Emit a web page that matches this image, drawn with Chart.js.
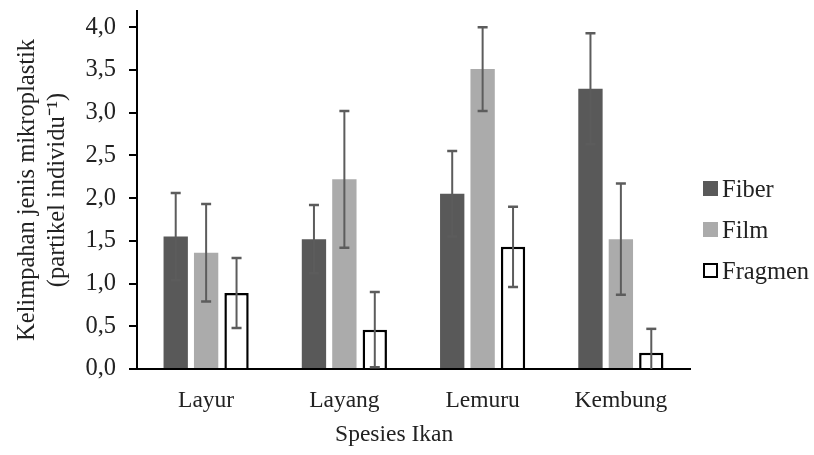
<!DOCTYPE html>
<html>
<head>
<meta charset="utf-8">
<script src="https://cdn.jsdelivr.net/npm/chart.js@4.4.1/dist/chart.umd.min.js"></script>
<style>
  html, body { margin: 0; padding: 0; background: #fff; }
  #wrap { position: relative; width: 814px; height: 455px; }
  #legend {
    position: absolute; left: 703px; top: 168px;
    font-family: "Liberation Serif", "Times New Roman", serif;
    font-size: 24.5px; color: #222;
  }
  #legend .item { display: flex; align-items: center; height: 41px; white-space: nowrap; }
  #legend .box { width: 15px; height: 15px; box-sizing: border-box; margin-right: 4px; }
</style>
</head>
<body>
<div id="wrap">
  <canvas id="chart" width="814" height="455"></canvas>
  <div id="legend"></div>
</div>
<script>
// fish species and mean microplastic counts per type, with error margins
const species = ['Layur', 'Layang', 'Lemuru', 'Kembung'];
const fiber = [1.55, 1.52, 2.05, 3.28];
const fiberErr = [0.51, 0.40, 0.50, 0.65];
const film = [1.36, 2.22, 3.51, 1.52];
const filmErr = [0.57, 0.80, 0.49, 0.65];
const fragmen = [0.89, 0.46, 1.43, 0.19];
const fragmenErr = [0.41, 0.44, 0.47, 0.28];
const yTicks = [0, 0.5, 1, 1.5, 2, 2.5, 3, 3.5, 4];

const serif = '"Liberation Serif", "Times New Roman", serif';
const textColor = '#222';
Chart.defaults.font.family = serif;
Chart.defaults.color = textColor;

// vertical error bars with caps, drawn on top of each bar
const errorBars = {
    id: 'errorBars',
    afterDatasetsDraw(chart) {
        const { ctx } = chart;
        const y = chart.scales.y;
        ctx.save();
        ctx.strokeStyle = '#5c5c5c';
        chart.data.datasets.forEach((ds, i) => {
            const meta = chart.getDatasetMeta(i);
            meta.data.forEach((bar, j) => {
                const v = ds.data[j];
                const e = ds.errors[j];
                const low = Math.max(0, v - e);
                const top = y.getPixelForValue(v + e);
                const bottom = y.getPixelForValue(low);
                ctx.lineWidth = 2;
                ctx.beginPath();
                ctx.moveTo(bar.x, top);
                ctx.lineTo(bar.x, bottom);
                ctx.stroke();
                ctx.lineWidth = 2.5;
                ctx.beginPath();
                ctx.moveTo(bar.x - 5, top);
                ctx.lineTo(bar.x + 5, top);
                if (low > 0) {
                    ctx.moveTo(bar.x - 5, bottom);
                    ctx.lineTo(bar.x + 5, bottom);
                }
                ctx.stroke();
            });
        });
        ctx.restore();
    }
};

// x axis title, sits a bit left of the plot centre
const xTitle = {
    id: 'xTitle',
    afterDraw(chart) {
        const { ctx, chartArea } = chart;
        ctx.save();
        ctx.font = '23.5px ' + serif;
        ctx.fillStyle = textColor;
        ctx.textAlign = 'center';
        ctx.textBaseline = 'middle';
        ctx.fillText('Spesies Ikan', chartArea.left + chartArea.width * 0.465, chart.scales.x.bottom - 20);
        ctx.restore();
    }
};

const chart = new Chart(document.getElementById('chart'), {
    type: 'bar',
    data: {
        labels: species,
        datasets: [
            { label: 'Fiber', data: fiber, errors: fiberErr, backgroundColor: '#595959', borderWidth: 0 },
            { label: 'Film', data: film, errors: filmErr, backgroundColor: '#ababab', borderWidth: 0 },
            { label: 'Fragmen', data: fragmen, errors: fragmenErr, backgroundColor: '#ffffff', borderColor: '#000000', borderWidth: 2.5 }
        ]
    },
    options: {
        responsive: false,
        animation: false,
        layout: { padding: { top: 11, left: 0, right: 124, bottom: 0 } },
        datasets: {
            bar: { categoryPercentage: 0.66, barPercentage: 0.8 }
        },
        plugins: {
            legend: { display: false },
            tooltip: { enabled: false }
        },
        scales: {
            x: {
                grid: { display: false, drawTicks: false },
                border: { color: '#000', width: 2 },
                ticks: { padding: 18, font: { size: 23.5 } },
                afterFit: s => { s.height = 86; }
            },
            y: {
                min: 0,
                max: 4.19,
                afterBuildTicks: s => { s.ticks = yTicks.map(v => ({ value: v })); },
                ticks: {
                    padding: 13,
                    font: { size: 24.5 },
                    callback: v => v.toFixed(1).replace('.', ',')
                },
                grid: { drawOnChartArea: false, tickLength: 8, color: '#000', lineWidth: 2 },
                border: { color: '#000', width: 2 },
                title: {
                    display: true,
                    text: ['Kelimpahan jenis mikroplastik', '(partikel individu⁻¹)'],
                    font: { size: 24.5, lineHeight: 1.25 },
                    padding: { top: 12, bottom: 0 }
                },
                afterFit: s => {
                    s.width = 137;
                    // axis line runs up past the 4,0 label, so no extra room for it
                    s.paddingTop = 0;
                    s.paddingBottom = 0;
                }
            }
        }
    },
    plugins: [errorBars, xTitle]
});

// legend built from the chart's own datasets
const legend = document.getElementById('legend');
chart.data.datasets.forEach(ds => {
    const item = document.createElement('div');
    item.className = 'item';
    const box = document.createElement('span');
    box.className = 'box';
    box.style.background = ds.backgroundColor;
    if (ds.borderWidth) box.style.border = '2px solid ' + ds.borderColor;
    item.appendChild(box);
    item.appendChild(document.createTextNode(ds.label));
    legend.appendChild(item);
});
</script>
</body>
</html>
